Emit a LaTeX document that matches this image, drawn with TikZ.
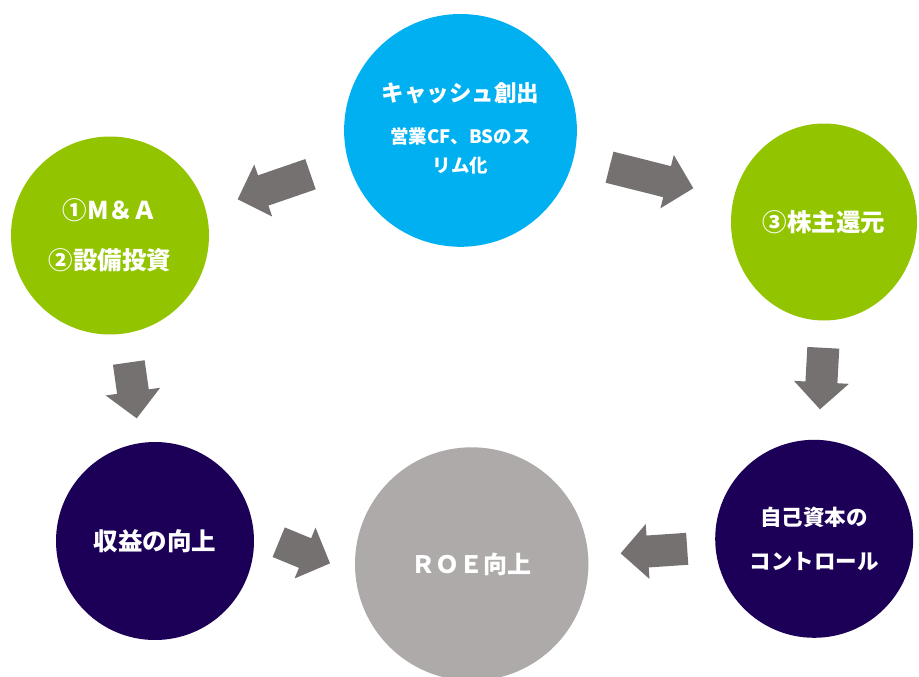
\documentclass[tikz,border=0pt]{standalone}
\usepackage{fontspec}
\newfontfamily\cjk{Noto Sans CJK JP}
\usetikzlibrary{shapes.geometric}
\definecolor{cyanc}{HTML}{00B0F0}
\definecolor{greenc}{HTML}{92C400}
\definecolor{navyc}{HTML}{1C0058}
\definecolor{grayc}{HTML}{AEAAAA}
\definecolor{arrowc}{HTML}{767171}
\begin{document}
\begin{tikzpicture}[x=1pt,y=-1pt,
  bubble/.style={circle, inner sep=0pt, text=white, align=center},
  lbl/.style={text=white, inner sep=0pt, align=center},
  pics/blockarrow/.style={code={
    \fill[arrowc] (0,-16) -- ({#1-27},-16) -- ({#1-27},-27.5) -- (#1,0)
      -- ({#1-27},27.5) -- ({#1-27},16) -- (0,16) -- cycle;}}]
\clip (0,0) rectangle (919,677);
\fill[white] (0,0) rectangle (919,677);

% circles
\node[bubble, fill=cyanc, minimum size=232.8pt] (cash) at (460.5,130.4) {};
\node[lbl, font=\cjk\bfseries\fontsize{22.5}{22.5}\selectfont] (cashT) at (460.5,93.3) {キャッシュ創出};
\node[lbl, font=\cjk\bfseries\fontsize{18.5}{29}\selectfont] (cashS) at (460.5,151.2) {営業CF、BSのス\\リム化};

\node[bubble, fill=greenc, minimum size=198pt,
  font=\cjk\bfseries\fontsize{24.5}{50}\selectfont] (inv) at (110,235.5) {①M＆Ａ\\②設備投資};

\node[ellipse, fill=greenc, minimum width=186pt, minimum height=197pt, inner sep=0pt,
  text=white, font=\cjk\bfseries\fontsize{24.5}{24.5}\selectfont] (ret) at (824,222) {③株主還元};

\node[bubble, fill=navyc, minimum size=198pt,
  font=\cjk\bfseries\fontsize{24.5}{24.5}\selectfont] (prof) at (155,541) {収益の向上};

\node[bubble, fill=grayc, minimum size=233.4pt,
  font=\cjk\bfseries\fontsize{24}{24}\selectfont] (roe) at (471.7,564) {ＲＯＥ向上};

\node[bubble, fill=navyc, minimum size=198pt,
  font=\cjk\bfseries\fontsize{21.5}{43.3}\selectfont] (eq) at (814.2,538.8) {自己資本の\\コントロール};

% block arrows
\pic[rotate=199] at (310.5,174.2) {blockarrow=77};
\pic[rotate=-14.1] at (609.5,167.2) {blockarrow=86.4};
\pic[rotate=-81.9] at (128.8,362.5) {blockarrow=56.4};
\pic[rotate=-22.4] at (278.7,542.2) {blockarrow=55.5};
\pic[rotate=-93.1] at (823.3,347.8) {blockarrow=61.6};
\pic[rotate=183.9] at (687.2,548.8) {blockarrow=66.7};
\end{tikzpicture}
\end{document}
